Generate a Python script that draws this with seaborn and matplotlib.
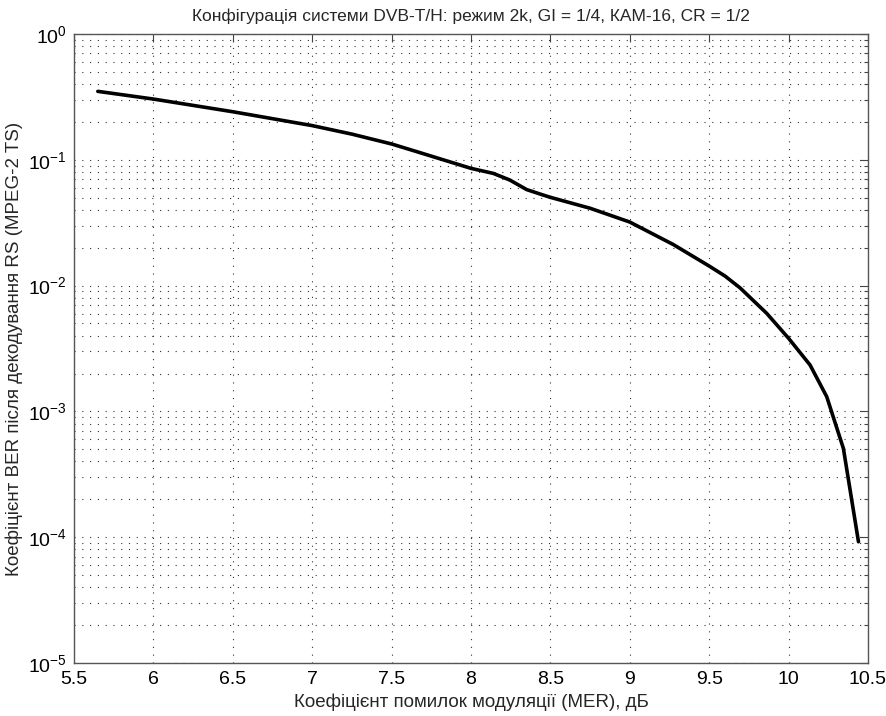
import matplotlib
matplotlib.use("Agg")
import matplotlib.pyplot as plt
import matplotlib.ticker as mticker
import seaborn as sns
import pandas as pd
import numpy as np

# Data
mer_db = [5.65, 6.0, 6.5, 7.0, 7.25, 7.5, 7.64, 8.0, 8.14, 8.245, 8.35, 8.434,
          8.5, 8.75, 9.0, 9.274, 9.5, 9.6, 9.694, 9.862, 10.0, 10.135, 10.24,
          10.345, 10.44]
ber = [0.350, 0.304, 0.241, 0.187, 0.160, 0.1336, 0.118, 0.0855, 0.078, 0.069,
       0.058, 0.0535, 0.0503, 0.0412, 0.0320, 0.0212, 0.0143, 0.0119, 0.0096,
       0.00602, 0.00381, 0.00234, 0.00131, 0.000508, 0.000092]
x_ticks = [5.5, 6, 6.5, 7, 7.5, 8, 8.5, 9, 9.5, 10, 10.5]
x_tick_labels = ["5.5", "6", "6.5", "7", "7.5", "8", "8.5", "9", "9.5", "10", "10.5"]

title = "Конфігурація системи DVB-T/H: режим 2k, GI = 1/4, КАМ-16, CR = 1/2"
xlabel = "Коефіцієнт помилок модуляції (MER), дБ"
ylabel = "Коефіцієнт BER після декодування RS (MPEG-2 TS)"

sns.set_theme(style="white")
plt.rcParams["font.family"] = ["Liberation Sans", "DejaVu Sans"]
plt.rcParams["mathtext.fontset"] = "custom"
plt.rcParams["mathtext.rm"] = "Liberation Sans"
plt.rcParams["mathtext.it"] = "Liberation Sans"

df = pd.DataFrame({"MER": mer_db, "BER": ber})

fig = plt.figure(figsize=(8.87, 7.16), dpi=100)
ax = fig.add_axes([74 / 887, 1 - 663 / 716, (868 - 74) / 887, (663 - 34) / 716])

sns.lineplot(data=df, x="MER", y="BER", ax=ax, color="black", linewidth=2.6)

ax.set_yscale("log")
ax.set_xlim(5.5, 10.5)
ax.set_ylim(1e-5, 1e0)
ax.set_xticks(x_ticks)
ax.set_xticklabels(x_tick_labels)
ax.yaxis.set_major_locator(mticker.LogLocator(base=10, numticks=10))
ax.yaxis.set_minor_locator(mticker.LogLocator(base=10, subs=np.arange(2, 10), numticks=50))
ax.yaxis.set_minor_formatter(mticker.NullFormatter())

grid_kw = dict(color="#333333", linestyle=(0, (1, 6)), linewidth=0.8)
ax.grid(True, which="major", axis="both", **grid_kw)
ax.grid(True, which="minor", axis="y", **grid_kw)

ax.tick_params(axis="both", which="both", direction="in", top=True, right=True,
               colors="#444444", labelcolor="black", labelsize=14)
ax.tick_params(axis="both", which="major", length=6, width=0.8)
ax.tick_params(axis="y", which="minor", length=3, width=0.8)
ax.tick_params(axis="x", pad=6)
ax.tick_params(axis="y", pad=5)

for s in ax.spines.values():
    s.set_color("#555555")
    s.set_linewidth(1.0)

ax.set_title(title, fontsize=12.5, pad=9)
ax.set_xlabel(xlabel, fontsize=13.5, labelpad=4)
ax.set_ylabel(ylabel, fontsize=13.5, labelpad=4)

fig.savefig("out.png", dpi=100, facecolor="white")
